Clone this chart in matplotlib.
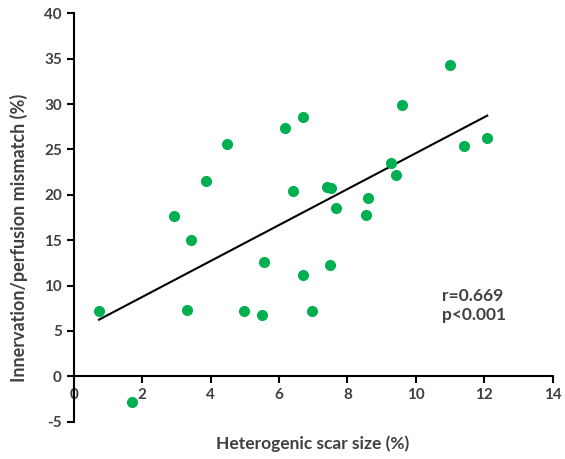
import matplotlib
matplotlib.use("Agg")
import matplotlib.pyplot as plt
import numpy as np

scar_size = [0.74, 1.70, 2.94, 3.30, 3.43, 3.87, 4.47, 4.97, 5.52, 5.56, 6.18, 6.42, 6.70, 6.71,
             6.97, 7.42, 7.51, 7.48, 7.66, 8.55, 8.60, 9.27, 9.42, 9.59, 11.0, 11.40, 12.09]
mismatch = [7.2, -2.8, 17.65, 7.3, 15.05, 21.5, 25.6, 7.2, 6.8, 12.6, 27.4, 20.4, 11.2, 28.6,
            7.2, 20.9, 20.8, 12.25, 18.6, 17.8, 19.7, 23.5, 22.2, 29.85, 34.3, 25.4, 26.3]
x_ticks = [0, 2, 4, 6, 8, 10, 12, 14]
y_ticks = [-5, 0, 5, 10, 15, 20, 25, 30, 35, 40]
stats_text = "r=0.669\np<0.001"

plt.rcParams['font.family'] = ['Lato', 'DejaVu Sans']
plt.rcParams['axes.unicode_minus'] = False
txt = '#404040'

fig = plt.figure(figsize=(5.65, 4.59), dpi=100)
ax = fig.add_axes([0.1304, 0.0813, 0.978 - 0.1304, 0.971 - 0.0813])

x = np.array(scar_size)
y = np.array(mismatch)
ax.scatter(x, y, s=64, color='#00B050', zorder=3, linewidths=0)

m, b = np.polyfit(x, y, 1)
xl = np.array([x.min(), x.max()])
ax.plot(xl, m * xl + b, color='black', lw=1.5, zorder=2)

ax.set_xlim(0, 14)
ax.set_ylim(-5, 40)
ax.set_xticks(x_ticks)
ax.set_yticks(y_ticks)
ax.spines['top'].set_visible(False)
ax.spines['right'].set_visible(False)
ax.spines['bottom'].set_position(('data', 0))
for s in ['left', 'bottom']:
    ax.spines[s].set_linewidth(1.5)
ax.tick_params(axis='both', direction='out', length=5, width=1.5, labelsize=11,
               labelcolor=txt, color='black')
for lab in ax.get_xticklabels() + ax.get_yticklabels():
    lab.set_fontweight('bold')

fig.text(0.5 * (0.1304 + 0.978), 1 - 444 / 459, "Heterogenic scar size (%)",
         ha='center', va='center', fontsize=12.5, fontweight='bold', color=txt)
fig.text(19 / 565, 1 - 238 / 459, "Innervation/perfusion mismatch (%)",
         ha='center', va='center', rotation=90, fontsize=13, fontweight='bold', color=txt)

ax.text(10.76, 7.8, stats_text, ha='left', va='center', fontsize=12.5,
        fontweight='bold', color=txt, linespacing=1.3)

fig.savefig("out.png", dpi=100)
